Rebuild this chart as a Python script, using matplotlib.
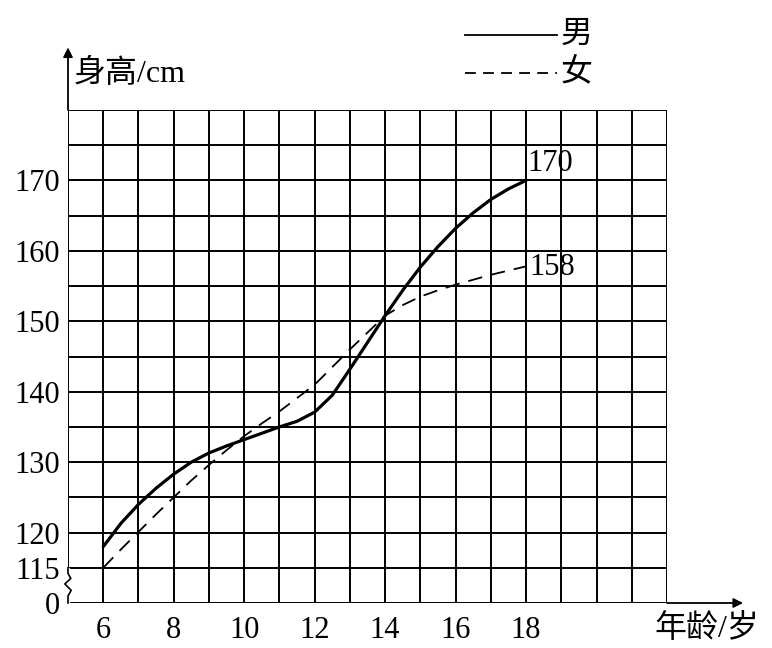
import matplotlib
matplotlib.use("Agg")
import matplotlib.pyplot as plt

# ages read at half-year steps
ages = [6, 6.5, 7, 7.5, 8, 8.5, 9, 9.5, 10, 10.5, 11, 11.5, 12,
        12.5, 13, 13.5, 14, 14.5, 15, 15.5, 16, 16.5, 17, 17.5, 18]
boys = [118.0, 121.3, 124.0, 126.3, 128.3, 130.0, 131.3, 132.3, 133.2,
        134.1, 135.0, 135.8, 137.1, 139.5, 143.2, 147.0, 150.8, 154.4,
        157.7, 160.6, 163.2, 165.4, 167.3, 168.8, 170.0]
girls = [115.0, 117.6, 120.1, 122.6, 125.0, 127.4, 129.6, 131.7, 133.7,
         135.5, 137.2, 139.1, 141.0, 143.5, 146.0, 148.4, 150.8, 152.3,
         153.5, 154.4, 155.2, 155.9, 156.6, 157.2, 157.8]

x_ticks = [6, 8, 10, 12, 14, 16, 18]
y_ticks = [110, 115, 120, 130, 140, 150, 160, 170]
y_tick_labels = ["0", "115", "120", "130", "140", "150", "160", "170"]
end_labels = ["170", "158"]

serif = ["Liberation Serif", "Noto Sans CJK SC"]

fig = plt.figure(figsize=(7.72, 6.48), dpi=100)
ax = fig.add_axes([68 / 772, 45 / 648, 599 / 772, 493 / 648])

ax.set_xlim(5, 22)
ax.set_ylim(110, 180)

# square grid: 1 year by 5 cm
for gx in range(5, 23):
    ax.axvline(gx, color="black", lw=1.4, zorder=1)
for gy in range(110, 181, 5):
    ax.axhline(gy, color="black", lw=1.4, zorder=1)

ax.plot(ages, boys, color="black", lw=2.3, solid_capstyle="round",
        solid_joinstyle="round", zorder=3)
ax.plot(ages, girls, color="black", lw=1.3, dashes=(8, 5), zorder=3)

ax.text(18.05, boys[-1] + 2.4, end_labels[0], fontsize=22, family=serif,
        va="center", ha="left")
ax.text(18.1, girls[-1] - 0.2, end_labels[1], fontsize=22, family=serif,
        va="center", ha="left")

for s in ax.spines.values():
    s.set_visible(False)

ax.set_xticks(x_ticks)
ax.set_xticklabels([str(t) for t in x_ticks], fontsize=22, family=serif)
ax.set_yticks(y_ticks)
ax.set_yticklabels(y_tick_labels, fontsize=22, family=serif)
ax.tick_params(axis="y", length=0, pad=6)
ax.tick_params(axis="x", length=0, pad=9)

# axis break on the y axis between 0 and 115
ax.axvline(5, color="white", lw=3, ymin=0.005, ymax=5 / 70 - 0.005, zorder=2)
ax.plot([5, 5, 5.09, 4.91, 5.08, 5, 5],
        [110, 111.0, 111.8, 112.7, 113.5, 114.2, 115],
        color="black", lw=1.2, clip_on=False, zorder=4)

# axis arrows
ax.annotate("", xy=(0, 1.127), xytext=(0, 1), xycoords="axes fraction",
            arrowprops=dict(arrowstyle="-|>", color="black", lw=1.3,
                            mutation_scale=14, shrinkA=0, shrinkB=0))
ax.annotate("", xy=(1.127, 0), xytext=(1, 0), xycoords="axes fraction",
            arrowprops=dict(arrowstyle="-|>", color="black", lw=1.3,
                            mutation_scale=14, shrinkA=0, shrinkB=0))

fig.text(74 / 772, 1 - 74 / 648, "身高/cm", fontsize=23, family=serif,
         va="center", ha="left")
fig.text(654 / 772, 1 - 629 / 648, "年龄/岁", fontsize=23, family=serif,
         va="center", ha="left")

# legend drawn by hand
fig.add_artist(plt.Line2D([465 / 772, 557 / 772], [1 - 35 / 648, 1 - 35 / 648],
                          color="black", lw=1.3))
fig.add_artist(plt.Line2D([465 / 772, 557 / 772], [1 - 73 / 648, 1 - 73 / 648],
                          color="black", lw=1.3, dashes=(6, 4)))
fig.text(561 / 772, 1 - 35 / 648, "男", fontsize=23, family=serif,
         va="center", ha="left")
fig.text(561 / 772, 1 - 73 / 648, "女", fontsize=23, family=serif,
         va="center", ha="left")

fig.savefig("out.png", dpi=100)
